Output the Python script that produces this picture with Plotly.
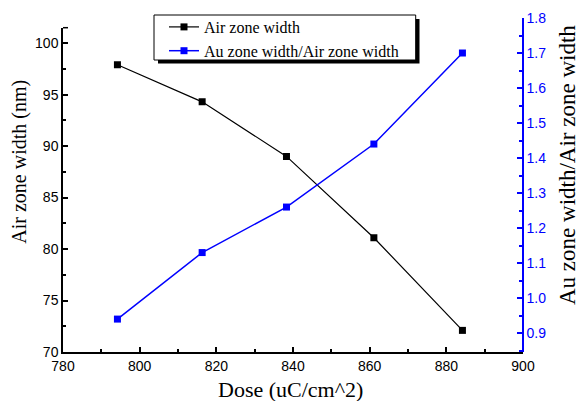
import plotly.graph_objects as go

dose = [794.2, 816.3, 838.3, 861.1, 884.2]
air_zone_width = [97.9, 94.3, 89.0, 81.1, 72.1]
au_air_ratio = [0.94, 1.13, 1.26, 1.44, 1.70]

W, H = 582, 401
L, R, T, B = 63, 59, 18, 49
PW, PH = W - L - R, H - T - B

def px(x):
    return (x - L) / PW

def py(y):
    return (H - B - y) / PH

SERIF = "Times New Roman, Liberation Serif, serif"
SANS = "Arial, Liberation Sans, sans-serif"
BLUE = "#0000FF"

fig = go.Figure()
fig.add_trace(go.Scatter(
    x=dose, y=air_zone_width, name="Air zone width", mode="lines+markers",
    line=dict(color="black", width=1.2),
    marker=dict(symbol="square", size=7, color="black"),
    xaxis="x", yaxis="y"))
fig.add_trace(go.Scatter(
    x=dose, y=au_air_ratio, name="Au zone width/Air zone width", mode="lines+markers",
    line=dict(color=BLUE, width=1.5),
    marker=dict(symbol="square", size=7, color=BLUE),
    xaxis="x", yaxis="y2"))

left_top = py(27.7)

fig.update_layout(
    width=W, height=H,
    margin=dict(l=L, r=R, t=T, b=B, autoexpand=False),
    paper_bgcolor="white", plot_bgcolor="rgba(0,0,0,0)",
    showlegend=True,
    legend=dict(
        x=px(164), y=py(10), xanchor="left", yanchor="top",
        bgcolor="rgba(0,0,0,0)", borderwidth=0,
        font=dict(family=SERIF, size=16, color="black"),
        tracegroupgap=0, itemwidth=30,
    ),
    xaxis=dict(
        domain=[0, 1], range=[780, 900], anchor="y",
        tick0=780, dtick=20, ticks="inside", ticklen=5, tickwidth=1.5, tickcolor="black",
        minor=dict(dtick=10, ticks="inside", ticklen=3, tickwidth=1.5, tickcolor="black"),
        showline=True, linecolor="black", linewidth=1.5,
        showgrid=False, zeroline=False,
        tickfont=dict(family=SANS, size=14, color="black"),
    ),
    yaxis=dict(
        domain=[0, left_top], range=[70, 101.5], anchor="x",
        tick0=70, dtick=5, ticks="inside", ticklen=5, tickwidth=1.5, tickcolor="black",
        minor=dict(dtick=2.5, ticks="inside", ticklen=3, tickwidth=1.5, tickcolor="black"),
        showline=True, linecolor="black", linewidth=1.5,
        showgrid=False, zeroline=False,
        tickfont=dict(family=SANS, size=14, color="black"),
    ),
    yaxis2=dict(
        domain=[0, 1], range=[0.846, 1.8], anchor="free", position=1, side="right",
        tick0=0.9, dtick=0.1, tickformat=".1f",
        ticks="inside", ticklen=5, tickwidth=1.5, tickcolor=BLUE,
        minor=dict(dtick=0.05, ticks="inside", ticklen=3, tickwidth=1.5, tickcolor=BLUE),
        showline=True, linecolor=BLUE, linewidth=1.5,
        showgrid=False, zeroline=False,
        tickfont=dict(family=SANS, size=14, color=BLUE),
    ),
    shapes=[
        dict(type="rect", xref="paper", yref="paper",
             x0=px(158), x1=px(419.5), y0=py(63.5), y1=py(19),
             fillcolor="black", line=dict(width=0), layer="above"),
        dict(type="rect", xref="paper", yref="paper",
             x0=px(154), x1=px(415.7), y0=py(60), y1=py(15),
             fillcolor="white", line=dict(color="black", width=1), layer="above"),
        dict(type="line", xref="paper", yref="paper",
             x0=0, x1=px(L + 5), y0=left_top, y1=left_top,
             line=dict(color="black", width=1.5)),
    ],
    annotations=[
        dict(text="Air zone width (nm)", xref="paper", yref="paper",
             x=px(20), y=py(161.7), textangle=-90, showarrow=False,
             xanchor="center", yanchor="middle",
             font=dict(family=SERIF, size=20, color="black")),
        dict(text="Au zone width/Air zone width", xref="paper", yref="paper",
             x=px(567), y=py(165), textangle=-90, showarrow=False,
             xanchor="center", yanchor="middle",
             font=dict(family=SERIF, size=23, color="black")),
        dict(text="Dose (uC/cm^2)", xref="paper", yref="paper",
             x=px(290), y=py(390), showarrow=False,
             xanchor="center", yanchor="middle",
             font=dict(family=SERIF, size=22, color="black")),
    ],
)

fig.write_html(
    "out.html",
    config={"displayModeBar": False},
    post_script="document.body.style.margin='0';document.body.style.padding='0';",
)
